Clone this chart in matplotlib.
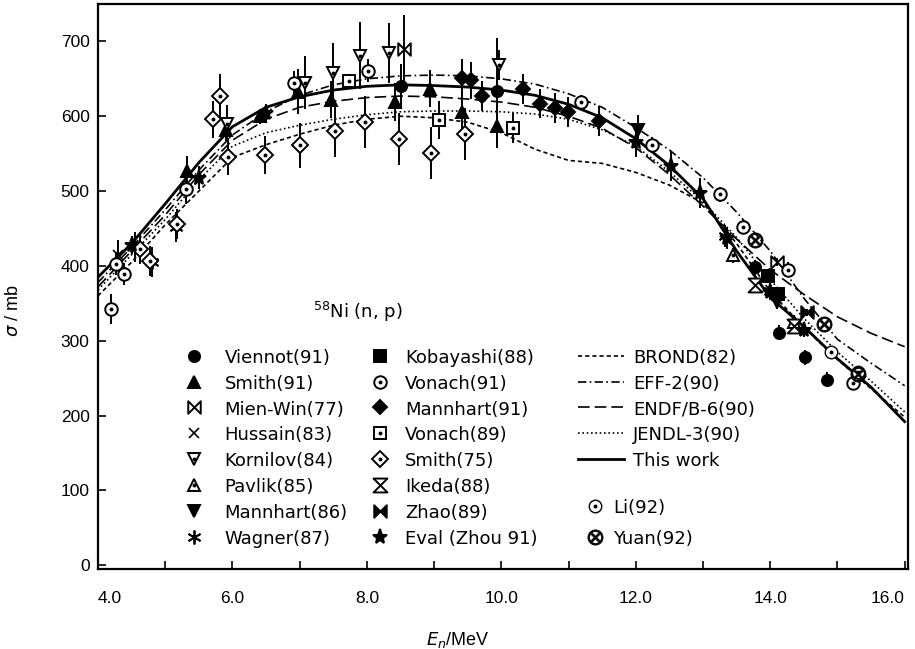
import numpy as np
import matplotlib
matplotlib.use("Agg")
from matplotlib import pyplot as plt
from matplotlib.path import Path
from matplotlib.legend_handler import HandlerTuple

plt.rcParams['font.family'] = ['Liberation Sans', 'DejaVu Sans']
plt.rcParams['mathtext.fontset'] = 'dejavusans'

# evaluated curves (energy grid in MeV, cross sections in mb)
e_grid = [4.0, 4.5, 5.0, 5.5, 6.0, 6.5, 7.0, 7.5, 8.0, 8.5, 9.0, 9.5, 10.0,
          10.5, 11.0, 11.5, 12.0, 12.5, 13.0, 13.5, 14.0, 14.5, 15.0, 15.5, 16.0]
brond = [360, 405, 455, 500, 545, 562, 576, 588, 596, 600, 598, 592, 578,
         556, 541, 537, 525, 508, 484, 430, 366, 318, 275, 236, 198]
eff2 = [378, 425, 475, 528, 575, 606, 628, 642, 650, 654, 655, 654, 650,
        643, 630, 612, 585, 555, 518, 472, 420, 357, 302, 270, 240]
endf = [372, 420, 468, 522, 568, 596, 612, 620, 625, 627, 626, 623, 619,
        612, 600, 584, 558, 522, 480, 436, 395, 362, 332, 310, 292]
jendl = [368, 415, 462, 515, 560, 578, 588, 596, 602, 606, 607, 607, 606,
         603, 596, 582, 560, 526, 486, 438, 382, 330, 285, 246, 205]
this_work = [385, 430, 483, 538, 586, 612, 626, 635, 640, 642, 641, 639, 635,
             628, 616, 598, 570, 534, 490, 420, 358, 319, 276, 238, 192]

# measurements: x (MeV), y (mb), error (mb)
viennot_x = [8.02, 8.51, 9.94, 13.78, 14.13, 14.52, 14.84]
viennot_y = [661, 640, 634, 398, 311, 278, 248]
viennot_e = [15, 30, 70, 10, 10, 10, 10]

smith91_x = [5.33, 5.9, 6.41, 6.98, 7.46, 8.42, 8.94, 9.42, 9.94]
smith91_y = [527, 582, 600, 633, 622, 619, 637, 606, 587]
smith91_e = [20, 15, 10, 30, 25, 25, 25, 25, 30]

mienwin_x = [8.55, 14.1]
mienwin_y = [690, 405]
mienwin_e = [45, 5]

hussain_x = [4.3, 4.55]
hussain_y = [415, 425]
hussain_e = [20, 20]

kornilov_x = [5.92, 7.08, 7.49, 7.9, 8.33, 9.96]
kornilov_y = [590, 645, 658, 681, 684, 668]
kornilov_e = [25, 35, 40, 45, 40, 20]

pavlik_x = [13.44, 14.35]
pavlik_y = [414, 325]
pavlik_e = [10, 10]

mannhart86_x = [12.03, 14.1]
mannhart86_y = [582, 352]
mannhart86_e = [20, 10]

wagner_x = [4.8, 5.16, 13.33, 14.0]
wagner_y = [405, 452, 440, 367]
wagner_e = [20, 20, 15, 10]

kobayashi_x = [13.96, 14.12]
kobayashi_y = [386, 362]
kobayashi_e = [8, 8]

vonach91_x = [4.19, 4.27, 4.38, 5.31, 6.91, 8.02, 11.19, 12.24, 13.25, 13.59, 14.26, 15.23]
vonach91_y = [342, 403, 389, 503, 645, 661, 619, 562, 496, 452, 395, 244]
vonach91_e = [20, 15, 15, 20, 15, 15, 10, 10, 10, 10, 10, 10]

mannhart91_x = [9.42, 9.55, 9.72, 10.32, 10.58, 10.8, 10.99, 11.45]
mannhart91_y = [651, 648, 627, 637, 617, 611, 606, 594]
mannhart91_e = [25, 25, 20, 20, 20, 20, 20, 20]

vonach89_x = [7.73, 9.07, 10.18]
vonach89_y = [647, 595, 584]
vonach89_e = [10, 25, 20]

smith75_x = [4.62, 4.78, 5.18, 5.71, 5.81, 5.94, 6.48, 7.0, 7.52, 7.97, 8.48, 8.96, 9.46]
smith75_y = [422, 407, 456, 596, 627, 546, 548, 561, 580, 592, 570, 551, 576]
smith75_e = [20, 20, 20, 25, 30, 25, 25, 30, 35, 35, 35, 35, 35]

ikeda_x = [13.77, 14.35]
ikeda_y = [374, 320]
ikeda_e = [5, 5]

zhao_x = [14.55]
zhao_y = [338]
zhao_e = [5]

eval_x = [4.5, 5.5, 6.5, 12.01, 12.53, 12.96, 13.35, 14.0, 14.5]
eval_y = [428, 518, 604, 565, 534, 497, 437, 365, 315]
eval_e = [12, 15, 12, 20, 20, 20, 15, 10, 10]

li_x = [14.9, 15.3]
li_y = [285, 258]
li_e = [8, 8]

yuan_x = [13.78, 14.8, 15.3]
yuan_y = [434, 322, 255]
yuan_e = [0, 0, 0]

bowtie = Path([(-1, 1), (1, -1), (1, 1), (-1, -1), (-1, 1)],
              [Path.MOVETO, Path.LINETO, Path.LINETO, Path.LINETO, Path.CLOSEPOLY])
hourglass = Path([(-1, 1), (1, 1), (-1, -1), (1, -1), (-1, 1)],
                 [Path.MOVETO, Path.LINETO, Path.LINETO, Path.LINETO, Path.CLOSEPOLY])

fig = plt.figure(figsize=(9.15, 6.49), dpi=100)
ax = fig.add_axes([98 / 915, 80 / 649, 810 / 915, 565 / 649])

ax.plot(e_grid, brond, color='k', lw=1.2, dashes=(2.5, 1.8))
ax.plot(e_grid, eff2, color='k', lw=1.2, dashes=(5, 2, 1, 2))
ax.plot(e_grid, endf, color='k', lw=1.2, dashes=(7, 3))
ax.plot(e_grid, jendl, color='k', lw=1.2, dashes=(1, 1.6))
ax.plot(e_grid, this_work, color='k', lw=2.0)


def series(x, y, e, marker, ms, filled, dot=False, mew=1.4):
    ax.errorbar(x, y, yerr=e, fmt='none', ecolor='k', elinewidth=1.4, capsize=0)
    fc = 'k' if filled else 'white'
    h, = ax.plot(x, y, ls='none', marker=marker, ms=ms, mfc=fc, mec='k', mew=mew)
    if dot:
        d, = ax.plot(x, y, ls='none', marker='o', ms=1.8, mfc='k', mec='k')
        return (h, d)
    return h


hv = series(viennot_x, viennot_y, viennot_e, 'o', 8, True)
hs91 = series(smith91_x, smith91_y, smith91_e, '^', 8, True)
hmw = series(mienwin_x, mienwin_y, mienwin_e, bowtie, 9, False)
hhu = series(hussain_x, hussain_y, hussain_e, 'x', 7, False, mew=1.2)
hko = series(kornilov_x, kornilov_y, kornilov_e, 'v', 9, False, dot=True)
hpa = series(pavlik_x, pavlik_y, pavlik_e, '^', 9, False, dot=True)
hm86 = series(mannhart86_x, mannhart86_y, mannhart86_e, 'v', 9, True)
hwa = series(wagner_x, wagner_y, wagner_e, (6, 2, 0), 10, False, mew=1.3)
hkb = series(kobayashi_x, kobayashi_y, kobayashi_e, 's', 8, True)
hv91 = series(vonach91_x, vonach91_y, vonach91_e, 'o', 9, False, dot=True)
hm91 = series(mannhart91_x, mannhart91_y, mannhart91_e, 'D', 7, True)
hv89 = series(vonach89_x, vonach89_y, vonach89_e, 's', 9, False, dot=True)
hs75 = series(smith75_x, smith75_y, smith75_e, 'D', 8, False, dot=True)
hik = series(ikeda_x, ikeda_y, ikeda_e, hourglass, 10, False)
hzh = series(zhao_x, zhao_y, zhao_e, bowtie, 9, True)
hev = series(eval_x, eval_y, eval_e, '*', 11, True)
hli = series(li_x, li_y, li_e, 'o', 9, False, dot=True, mew=1.0)
hyu = series(yuan_x, yuan_y, yuan_e, r'$\otimes$', 11, True, mew=0.5)

ax.text(7.2, 339, r'$^{58}$Ni (n, p)', fontsize=13, family='DejaVu Sans',
        ha='left', va='center')

ax.set_xlim(4.0, 16.05)
ax.set_ylim(-5, 750)
ax.set_xticks([4, 6, 8, 10, 12, 14, 16])
ax.set_xticks([5, 7, 9, 11, 13, 15], minor=True)
ax.set_xticklabels(['4.0', '6.0', '8.0', '10.0', '12.0', '14.0', '16.0'])
ax.set_yticks([0, 100, 200, 300, 400, 500, 600, 700])
ax.tick_params(which='both', direction='in', length=6, width=1.2, labelsize=12.5)
ax.tick_params(axis='x', pad=16)
ax.tick_params(axis='y', pad=6)
xl = ax.get_xticklabels()
xl[0].set_ha('left')
xl[-1].set_ha('right')
for s in ax.spines.values():
    s.set_linewidth(1.6)

ax.set_xlabel(r'$E_n$/MeV', fontsize=13)
ax.xaxis.set_label_coords(0.444, -0.108)
ax.set_ylabel(r'$\sigma$ / mb', fontsize=13)
ax.yaxis.set_label_coords(-0.094, 0.458)

lkw = dict(frameon=False, prop={'family': 'DejaVu Sans', 'size': 13},
           borderpad=0, borderaxespad=0,
           labelspacing=0.42, handlelength=1.0, handleheight=1.0,
           loc='upper left', handler_map={tuple: HandlerTuple(ndivide=1)})

leg1 = ax.legend([hv, hs91, hmw, hhu, hko, hpa, hm86, hwa],
                 ['Viennot(91)', 'Smith(91)', 'Mien-Win(77)', 'Hussain(83)',
                  'Kornilov(84)', 'Pavlik(85)', 'Mannhart(86)', 'Wagner(87)'],
                 bbox_to_anchor=(0.1074, 0.39), handletextpad=1.2, **lkw)
ax.add_artist(leg1)
leg2 = ax.legend([hkb, hv91, hm91, hv89, hs75, hik, hzh, hev],
                 ['Kobayashi(88)', 'Vonach(91)', 'Mannhart(91)', 'Vonach(89)',
                  'Smith(75)', 'Ikeda(88)', 'Zhao(89)', 'Eval (Zhou 91)'],
                 bbox_to_anchor=(0.3365, 0.39), handletextpad=0.9, **lkw)
ax.add_artist(leg2)
line_handles = ax.get_lines()[:5]
lkw3 = dict(lkw)
lkw3['handlelength'] = 2.55
leg3 = ax.legend(line_handles,
                 ['BROND(82)', 'EFF-2(90)', 'ENDF/B-6(90)', 'JENDL-3(90)', 'This work'],
                 bbox_to_anchor=(0.5926, 0.39), handletextpad=0.5, **lkw3)
ax.add_artist(leg3)
lkw4 = dict(lkw)
lkw4['labelspacing'] = 0.72
ax.legend([hli, hyu], ['Li(92)', 'Yuan(92)'],
          bbox_to_anchor=(0.6025, 0.124), handletextpad=0.5, **lkw4)

fig.savefig('out.png', dpi=100)
